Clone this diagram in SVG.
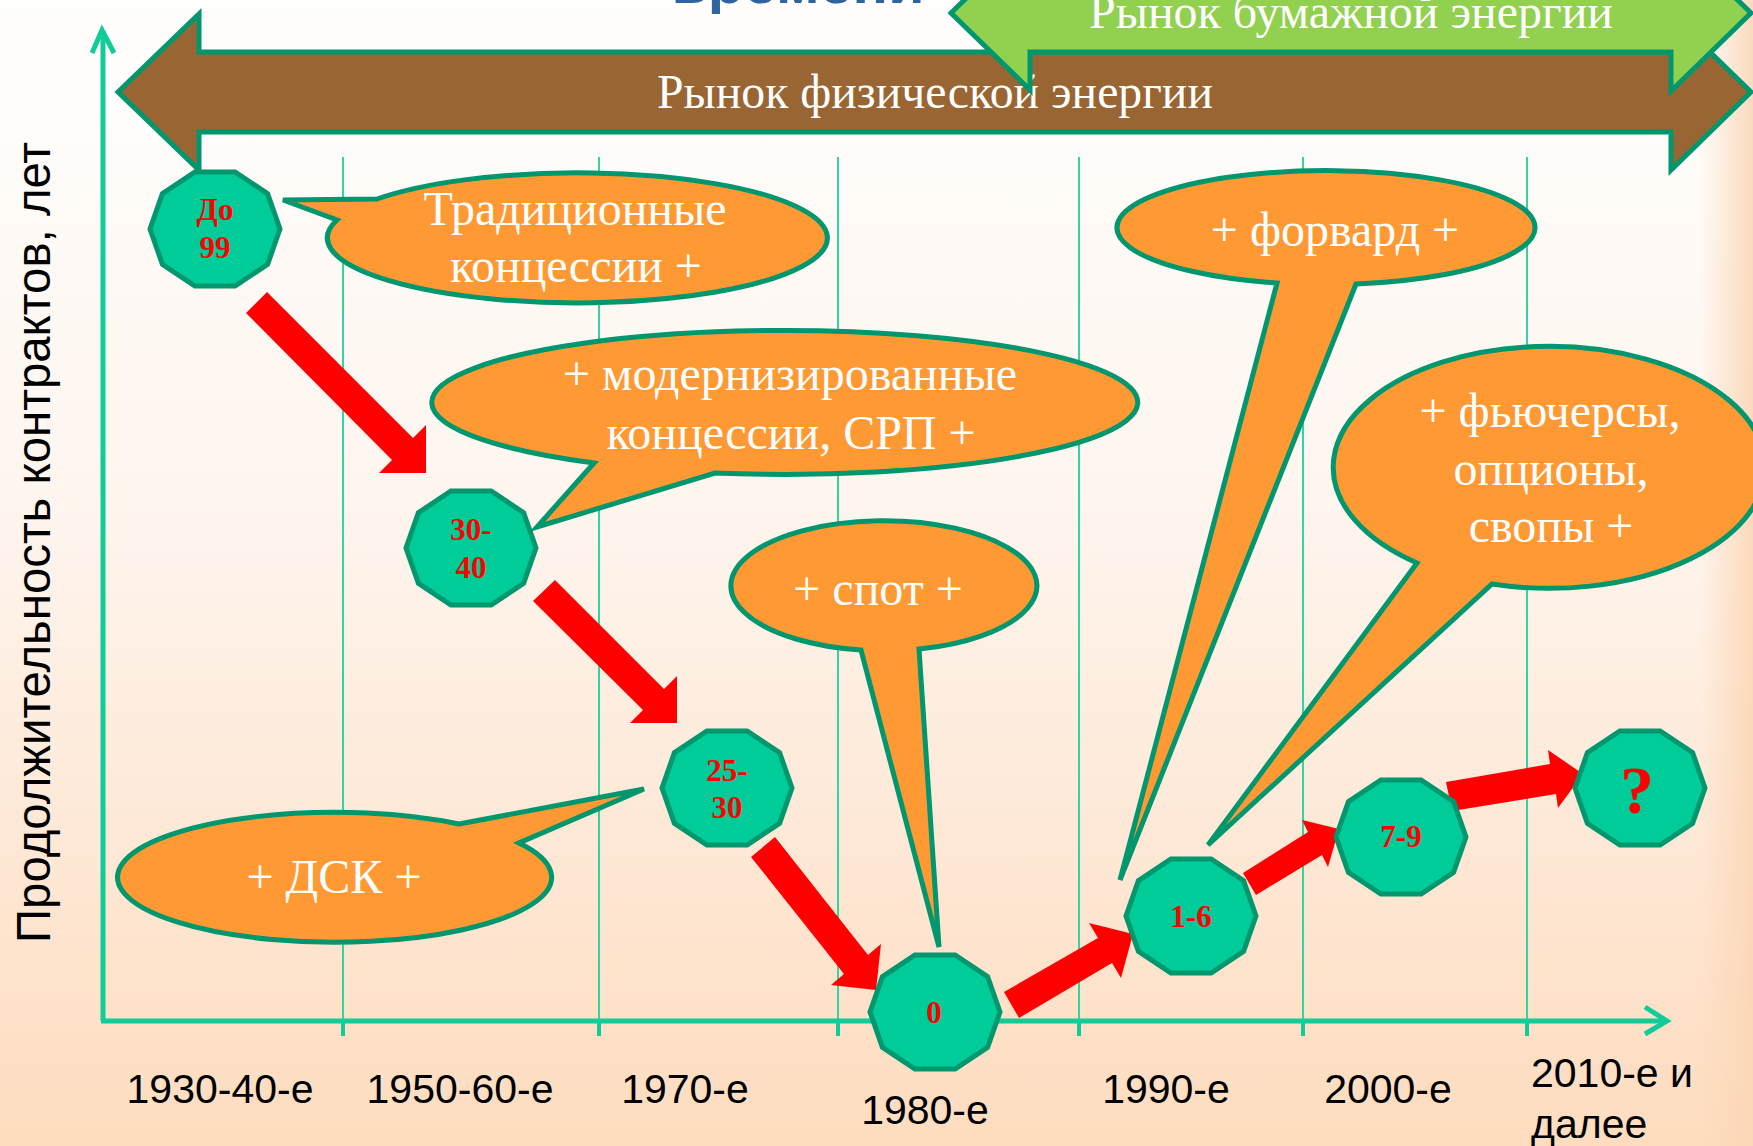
<svg xmlns="http://www.w3.org/2000/svg" width="1753" height="1146" viewBox="0 0 1753 1146">
<defs>
<linearGradient id="bg" x1="0" y1="0" x2="0" y2="1">
<stop offset="0" stop-color="#fffefd"/>
<stop offset="0.45" stop-color="#fef5ee"/>
<stop offset="1" stop-color="#fedcbf"/>
</linearGradient>
<linearGradient id="edge" x1="0" y1="0" x2="1" y2="0">
<stop offset="0" stop-color="#fbd6b6" stop-opacity="0"/>
<stop offset="1" stop-color="#fbd6b6" stop-opacity="0.9"/>
</linearGradient>
<polygon id="deca" points="65,0 52.6,35.3 20.1,57.1 -20.1,57.1 -52.6,35.3 -65,0 -52.6,-35.3 -20.1,-57.1 20.1,-57.1 52.6,-35.3"/>
</defs>
<style>
.cal{fill:#ff9933;stroke:#00966e;stroke-width:5;stroke-linejoin:miter}
.ct{font-family:"Liberation Serif",serif;font-size:48px;fill:#ffffff;text-anchor:middle}
.node{fill:#00cc99;stroke:#00966e;stroke-width:5}
.nt{font-family:"Liberation Serif",serif;font-weight:bold;font-size:31px;fill:#ff0000;text-anchor:middle}
.nq{font-family:"Liberation Serif",serif;font-weight:bold;font-size:68px;fill:#ff0000;text-anchor:middle}
.xl{font-family:"Liberation Sans",sans-serif;font-size:41px;fill:#000000;text-anchor:middle}
.xls{font-family:"Liberation Sans",sans-serif;font-size:41px;fill:#000000;text-anchor:start}
.grid{stroke:#33d3a3;stroke-width:2}
.axis{stroke:#10cc99;stroke-width:5;fill:none}
.tick{stroke:#10cc99;stroke-width:4}
.red{fill:#ff0000}
.band{stroke:#00966e;stroke-width:5;stroke-linejoin:miter}
.bt{font-family:"Liberation Serif",serif;font-size:48px;fill:#ffffff;text-anchor:middle}
</style>
<rect x="0" y="0" width="1753" height="1146" fill="url(#bg)"/>
<rect x="1700" y="0" width="53" height="1146" fill="url(#edge)"/>

<text x="798" y="3" font-family="Liberation Sans, sans-serif" font-weight="bold" font-size="52" fill="#2e64a0" text-anchor="middle" textLength="253" lengthAdjust="spacingAndGlyphs">времени</text>

<g id="grid">
<line class="grid" x1="343" y1="157" x2="343" y2="1021"/>
<line class="grid" x1="599" y1="157" x2="599" y2="1021"/>
<line class="grid" x1="838" y1="157" x2="838" y2="1021"/>
<line class="grid" x1="1079" y1="157" x2="1079" y2="1021"/>
<line class="grid" x1="1303" y1="157" x2="1303" y2="1021"/>
<line class="grid" x1="1527" y1="157" x2="1527" y2="1021"/>
</g>

<g id="axes">
<line class="axis" x1="103" y1="1021" x2="103" y2="31"/>
<polyline class="axis" points="92,53 102,30 114,53"/>
<line class="axis" x1="101" y1="1021" x2="1666" y2="1021"/>
<polyline class="axis" points="1645,1007 1667,1021 1645,1034"/>
<line class="tick" x1="343" y1="1021" x2="343" y2="1036"/>
<line class="tick" x1="599" y1="1021" x2="599" y2="1036"/>
<line class="tick" x1="838" y1="1021" x2="838" y2="1036"/>
<line class="tick" x1="1079" y1="1021" x2="1079" y2="1036"/>
<line class="tick" x1="1303" y1="1021" x2="1303" y2="1036"/>
<line class="tick" x1="1527" y1="1021" x2="1527" y2="1036"/>
</g>

<text transform="translate(50,943) rotate(-90)" x="0" y="0" font-family="Liberation Sans, sans-serif" font-size="48" fill="#000000" textLength="801" lengthAdjust="spacingAndGlyphs">Продолжительность контрактов, лет</text>

<g id="xlabels">
<text class="xl" x="220" y="1103">1930-40-е</text>
<text class="xl" x="460" y="1103">1950-60-е</text>
<text class="xl" x="685" y="1103">1970-е</text>
<text class="xl" x="925" y="1124">1980-е</text>
<text class="xl" x="1166" y="1103">1990-е</text>
<text class="xl" x="1388" y="1103">2000-е</text>
<text class="xls" x="1531" y="1087">2010-е и</text>
<text class="xls" x="1531" y="1138">далее</text>
</g>

<g id="physical-market">
<path class="band" fill="#996633" d="M118,92 L199,14 L199,52 L1671,52 L1671,14 L1751,92 L1671,170 L1671,132 L199,132 L199,170 Z"/>
<text class="bt" x="935" y="108" textLength="556" lengthAdjust="spacingAndGlyphs">Рынок физической энергии</text>
</g>

<g id="paper-market">
<path class="band" fill="#92d050" d="M951,13 L1030,-64 L1030,-26 L1671,-26 L1671,-65 L1751,13 L1671,91 L1671,52 L1030,52 L1030,90 Z"/>
<text class="bt" x="1351" y="28" textLength="524" lengthAdjust="spacingAndGlyphs">Рынок бумажной энергии</text>
</g>

<g id="callout-traditional">
<path class="cal" d="M377,199 L283,200 L337,220 A250,65 0 1 0 377,199 Z"/>
<text class="ct" x="575" y="225">Традиционные</text>
<text class="ct" x="576" y="282">концессии +</text>
</g>

<g id="callout-modern">
<path class="cal" d="M594,463 L537,527 L715,473 A353,72 0 1 0 594,463 Z"/>
<text class="ct" x="790" y="390">+ модернизированные</text>
<text class="ct" x="791" y="449">концессии, СРП +</text>
</g>

<g id="callout-spot">
<path class="cal" d="M861,650 L939,947 L919,649 A153,65 0 1 0 861,650 Z"/>
<text class="ct" x="878" y="605">+ спот +</text>
</g>

<g id="callout-dsk">
<path class="cal" d="M459,824 L644,789 L519,843 A217,65 0 1 1 459,824 Z"/>
<text class="ct" x="334" y="893">+ ДСК +</text>
</g>

<g id="callout-forward">
<path class="cal" d="M1277,283 L1120,880 L1356,284 A209,57 0 1 0 1277,283 Z"/>
<text class="ct" x="1335" y="246">+ форвард +</text>
</g>

<g id="callout-futures">
<path class="cal" d="M1417,563 L1208,845 L1492,584 A216,121 0 1 0 1417,563 Z"/>
<text class="ct" x="1550" y="427">+ фьючерсы,</text>
<text class="ct" x="1551" y="485">опционы,</text>
<text class="ct" x="1551" y="542">свопы +</text>
</g>

<g id="connectors">
<polygon class="red" points="267,292 413,438 426,425 426,473 379,473 392,460 246,313"/>
<polygon class="red" points="555,580 664,689 677,676 677,723 630,723 643,710 533,601"/>
<polygon class="red" points="775,837 868,955 881,944 876,990 831,985 844,974 751,857"/>
<polygon class="red" points="1004,992 1098,938 1089,923 1133,934 1121,978 1112,963 1019,1018"/>
<polygon class="red" points="1243,873 1308,832 1302,820 1339,829 1328,867 1322,855 1256,895"/>
<polygon class="red" points="1446,782 1550,764 1548,750 1583,774 1558,808 1556,794 1452,811"/>
</g>

<g id="node-99">
<use href="#deca" class="node" transform="translate(215,229)"/>
<text class="nt" x="215" y="220">До</text>
<text class="nt" x="215" y="258">99</text>
</g>
<g id="node-30-40">
<use href="#deca" class="node" transform="translate(471,548)"/>
<text class="nt" x="471" y="540">30-</text>
<text class="nt" x="471" y="578">40</text>
</g>
<g id="node-25-30">
<use href="#deca" class="node" transform="translate(727,788)"/>
<text class="nt" x="727" y="781">25-</text>
<text class="nt" x="727" y="818">30</text>
</g>
<g id="node-0">
<use href="#deca" class="node" transform="translate(935,1012)"/>
<text class="nt" x="934" y="1023">0</text>
</g>
<g id="node-1-6">
<use href="#deca" class="node" transform="translate(1191,916)"/>
<text class="nt" x="1191" y="927">1-6</text>
</g>
<g id="node-7-9">
<use href="#deca" class="node" transform="translate(1401,837)"/>
<text class="nt" x="1401" y="847">7-9</text>
</g>
<g id="node-q">
<use href="#deca" class="node" transform="translate(1640,788)"/>
<text class="nq" x="1637" y="813">?</text>
</g>
</svg>
